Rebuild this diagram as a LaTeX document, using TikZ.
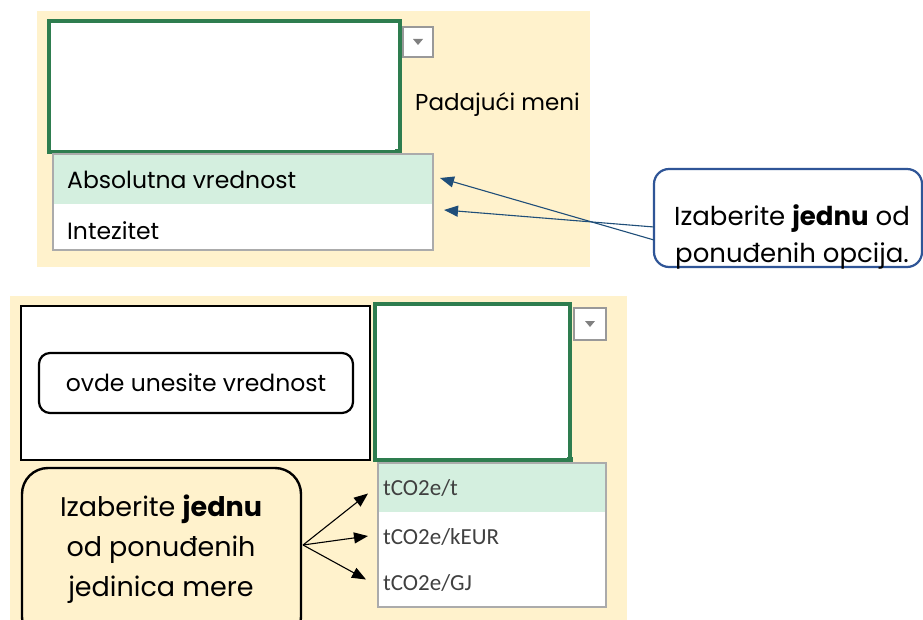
\documentclass[tikz,border=0pt]{standalone}
\usepackage{fontspec}
\setmainfont{Poppins}
\newfontfamily\listfont{Carlito}
\usetikzlibrary{arrows.meta}
\definecolor{cream}{HTML}{FFF2CC}
\definecolor{xlgreen}{HTML}{2E7D4F}
\definecolor{rowgreen}{HTML}{D4EFDF}
\definecolor{listgray}{HTML}{ABABAB}
\definecolor{boxblue}{HTML}{2F5597}
\definecolor{arrblue}{HTML}{1F4E79}
\definecolor{itemtext}{HTML}{404040}
\tikzset{
  box/.style={anchor=north west, inner sep=0pt, outer sep=0pt},
  panel/.style={box, fill=cream},
  cell/.style={box, draw=xlgreen, line width=3.6pt, fill=white},
  ddbtn/.style={box, draw=gray!80, line width=1.4pt, fill=white},
  listbox/.style={box, draw=listgray, line width=1.5pt},
  rowsel/.style={box, fill=rowgreen},
  rowplain/.style={box, fill=white},
  handle/.style={fill=xlgreen, inner sep=0pt, minimum size=6pt},
  lbl/.style={anchor=west, inner sep=0pt, font=\fontsize{23.5}{28}\selectfont},
  item/.style={anchor=west, inner sep=0pt, text=itemtext, font=\listfont\fontsize{23}{26}\selectfont},
  bluearrow/.style={draw=arrblue, line width=1.1pt, -{Triangle[length=14pt,width=11pt]}},
  blackarrow/.style={draw=black, line width=1.1pt, -{Triangle[length=14pt,width=11pt]}},
}
\begin{document}
\begin{tikzpicture}[x=1pt,y=-1pt]
\useasboundingbox (0,0) rectangle (923,620);
\fill[white] (0,0) rectangle (923,620);
% ---------- top panel ----------
\node[panel, minimum width=553pt, minimum height=256pt] (p1) at (37,11) {};
\node[cell, minimum width=351pt, minimum height=131pt] (cell1) at (49,21) {};
\node[handle] (h1) at (398,152) {};
\node[ddbtn, minimum width=30pt, minimum height=30pt] (dd1) at (403,27) {};
\fill[gray] ([xshift=-5pt,yshift=3pt]dd1.center) -- ([xshift=5pt,yshift=3pt]dd1.center) -- ([yshift=-3pt]dd1.center) -- cycle;
\node[lbl, font=\fontsize{23}{28}\selectfont] (pm) at (415,104) {Padajući meni};
\node[rowsel, minimum width=380pt, minimum height=50pt] (r1) at (53,154) {};
\node[rowplain, minimum width=380pt, minimum height=46pt] (r2) at (53,204) {};
\draw[listbox] (r1.north west) rectangle (r2.south east);
\node[lbl] (t1) at (67,180) {Absolutna vrednost};
\node[lbl] (t2) at (67,231) {Intezitet};
% callout
\node[box, draw=boxblue, line width=2.2pt, rounded corners=15pt, fill=white, minimum width=268pt, minimum height=98pt] (c1) at (654,169) {};
\node[align=center, inner sep=0pt, font=\fontsize{26}{37}\selectfont] (c1t) at (792,237) {Izaberite \textbf{jednu} od\\ponuđenih opcija.};
\coordinate (a1s) at ([yshift=-22pt]c1.west);
\coordinate (a2s) at ([yshift=-9pt]c1.west);
\draw[bluearrow] (a1s) -- ([xshift=7pt,yshift=1pt]r1.east);
\draw[bluearrow] (a2s) -- ([xshift=11pt,yshift=17pt]r2.east);
% ---------- bottom panel ----------
\node[panel, minimum width=617pt, minimum height=325pt] (p2) at (10,296) {};
\node[box, draw=black, line width=1.8pt, fill=white, minimum width=349pt, minimum height=154pt] (vb) at (21,306) {};
\node[draw=black, line width=2.2pt, rounded corners=11pt, fill=white, minimum width=314pt, minimum height=60pt, font=\fontsize{23.5}{28}\selectfont] (ov) at (196,383) {ovde unesite vrednost};
\node[cell, minimum width=195pt, minimum height=156pt] (cell2) at (375,304) {};
\node[handle] (h2) at (570,460) {};
\node[ddbtn, minimum width=32pt, minimum height=32pt] (dd2) at (574,308) {};
\fill[gray] ([xshift=-5pt,yshift=3pt]dd2.center) -- ([xshift=5pt,yshift=3pt]dd2.center) -- ([yshift=-3pt]dd2.center) -- cycle;
\node[rowsel, minimum width=228pt, minimum height=49pt] (u1) at (378,463) {};
\node[rowplain, minimum width=228pt, minimum height=48pt] (u2) at (378,512) {};
\node[rowplain, minimum width=228pt, minimum height=47pt] (u3) at (378,560) {};
\draw[listbox] (u1.north west) rectangle (u3.south east);
\node[item] (i1) at (383,488) {tCO2e/t};
\node[item] (i2) at (383,537) {tCO2e/kEUR};
\node[item] (i3) at (383,583) {tCO2e/GJ};
% callout 2
\node[box, draw=black, line width=2.4pt, rounded corners=26pt, fill=cream, minimum width=279pt, minimum height=175pt] (c2) at (22,468) {};
\node[align=center, inner sep=0pt, font=\fontsize{27}{40}\selectfont] (c2t) at (161,549) {Izaberite \textbf{jednu}\\od ponuđenih\\jedinica mere};
\coordinate (b0) at (303,545);
\draw[blackarrow] (b0) -- ([xshift=-10pt,yshift=-6pt]u1.west);
\draw[blackarrow] (b0) -- ([xshift=-10pt]u2.west);
\draw[blackarrow] (b0) -- ([xshift=-12pt,yshift=4pt]u3.west);
\end{tikzpicture}
\end{document}
